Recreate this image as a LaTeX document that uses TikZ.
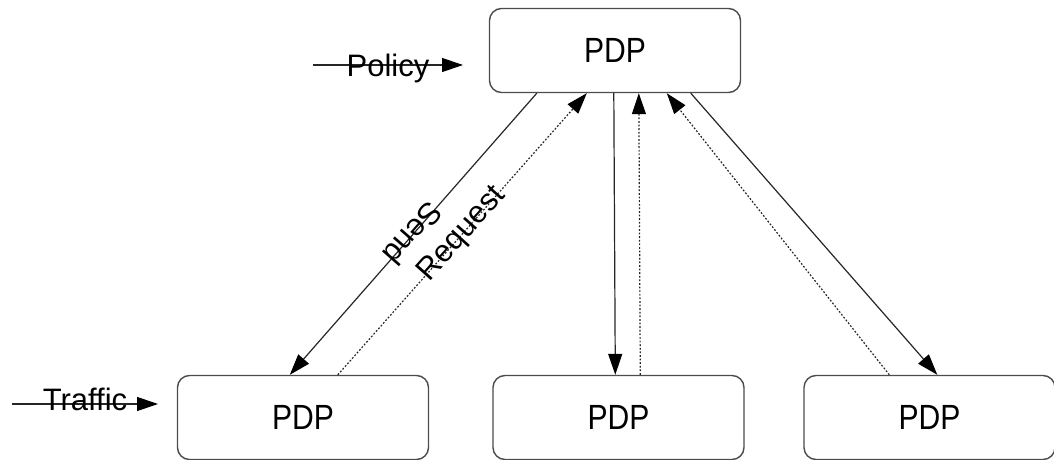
\documentclass[tikz,border=0pt]{standalone}
\usepackage{fontspec}
\setmainfont{Liberation Sans}
\newfontfamily\boxfont[FakeStretch=0.86]{Liberation Sans}
\usetikzlibrary{arrows.meta,calc}
\begin{document}
\begin{tikzpicture}[x=1pt,y=-1pt,
  pdpbox/.style={draw=black!70, line width=1.4pt, rounded corners=12pt,
    minimum width=251pt, minimum height=84pt, inner sep=0pt,
    font=\boxfont\fontsize{35}{40}\selectfont},
  link/.style={draw=black!85, line width=1.2pt},
  tip/.style={-{Triangle[length=21pt,width=14pt,fill=black,color=black]}},
  dots/.style={dash pattern=on 1.8pt off 1.8pt},
  lbl/.style={font=\fontsize{31}{36}\selectfont, inner sep=0pt}]
\useasboundingbox (0,0) rectangle (1054,460);

% the four decision points
\node[pdpbox] (top) at (615,50.5) {PDP};
\node[pdpbox] (bl)  at (303,417.5) {PDP};
\node[pdpbox] (bm)  at (618.5,417.5) {PDP};
\node[pdpbox] (br)  at (929.5,417.5) {PDP};

% left branch: send down, request up
\draw[link,tip] ($(top.south west)+(48,0)$) -- ($(bl.north west)+(113,0)$)
  node[lbl,pos=0.5,rotate=228.7] {Send};
\draw[link,tip,dots] ($(bl.north west)+(161,0)$) -- ($(top.south west)+(98,0)$)
  node[lbl,pos=0.5,rotate=48.2] {Request};

% middle branch
\draw[link,tip] ($(top.south west)+(125,0)$) -- ($(bm.north west)+(123,0)$);
\draw[link,tip,dots] ($(bm.north west)+(148,0)$) -- ($(top.south west)+(150,0)$);

% right branch
\draw[link,tip,dots] ($(br.north west)+(86,0)$) -- ($(top.south west)+(178,0)$);
\draw[link,tip] ($(top.south west)+(202,0)$) -- ($(br.north west)+(134,0)$);

% inputs
\coordinate (pin)  at (313,65);
\coordinate (pout) at (463,65);
\draw[link,tip] (pin) -- (pout);
\node[lbl,anchor=base] (policy) at (388,77) {Policy};

\coordinate (tin)  at (12,404);
\coordinate (tout) at (158,404);
\draw[link,tip] (tin) -- (tout);
\node[lbl,anchor=base] (traffic) at (85,410) {Traffic};
\end{tikzpicture}
\end{document}
